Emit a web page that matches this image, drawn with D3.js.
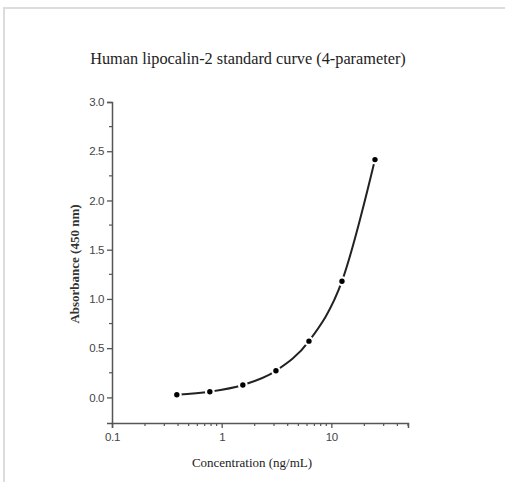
<!DOCTYPE html>
<html>
<head>
<meta charset="utf-8">
<script src="https://cdn.jsdelivr.net/npm/d3@7"></script>
<style>
  body { margin: 0; background: #fff; }
  .tick text { font-family: "Liberation Sans", Arial, sans-serif; fill: #444; letter-spacing: -0.4px; }
</style>
</head>
<body>
<div id="chart"></div>
<script>
// standard points
var concentrations = [0.39, 0.78, 1.56, 3.125, 6.25, 12.5, 25];
var absorbances = [0.027, 0.058, 0.126, 0.27, 0.571, 1.18, 2.415];
var xTickValues = [0.1, 1, 10];
var yTickValues = [0, 0.5, 1.0, 1.5, 2.0, 2.5, 3.0];

var W = 505, H = 482;
var svg = d3.select('#chart').append('svg')
  .attr('width', W)
  .attr('height', H);

// light frame
svg.append('path')
  .attr('d', 'M4,482 L4,8 L505,8')
  .attr('fill', 'none')
  .attr('stroke', '#dcdcdc')
  .attr('stroke-width', 2);

var x = d3.scaleLog().domain([0.1, 50]).range([112, 408]);
var y = d3.scaleLinear().domain([-0.26, 3.0]).range([423, 102]);
var axisColor = '#555';

svg.append('text')
  .attr('x', 248)
  .attr('y', 64)
  .attr('text-anchor', 'middle')
  .style('font', '16.3px "Liberation Serif", "Times New Roman", serif')
  .attr('fill', '#222')
  .text('Human lipocalin-2 standard curve (4-parameter)');

// y axis
var yAxis = svg.append('g')
  .attr('transform', 'translate(112,0)')
  .call(d3.axisLeft(y).tickValues(yTickValues).tickFormat(d3.format('.1f')).tickSize(5).tickPadding(3));
yAxis.select('.domain').attr('stroke', axisColor).attr('stroke-width', 1.5);
yAxis.selectAll('.tick line').attr('stroke', axisColor).attr('stroke-width', 1.3);
yAxis.selectAll('.tick text').style('font-size', '11.5px');

var yMinor = d3.range(0.25, 3.0, 0.5);
svg.append('g').selectAll('line')
  .data(yMinor)
  .enter().append('line')
  .attr('x1', 112).attr('x2', 109)
  .attr('y1', function (d) { return y(d); })
  .attr('y2', function (d) { return y(d); })
  .attr('stroke', axisColor).attr('stroke-width', 1.2);

// x axis
var xAxis = svg.append('g')
  .attr('transform', 'translate(0,423)')
  .call(d3.axisBottom(x).tickValues(xTickValues).tickFormat(d3.format('')).tickSize(5).tickPadding(5));
xAxis.select('.domain').attr('stroke', axisColor).attr('stroke-width', 1.5);
xAxis.selectAll('.tick line').attr('stroke', axisColor).attr('stroke-width', 1.3);
xAxis.selectAll('.tick text').style('font-size', '11.5px');

var xMinor = [];
[0.1, 1, 10].forEach(function (base) {
  for (var k = 2; k <= 9; k++) {
    if (base * k <= 50) xMinor.push(base * k);
  }
});
svg.append('g').selectAll('line')
  .data(xMinor)
  .enter().append('line')
  .attr('x1', function (d) { return x(d); })
  .attr('x2', function (d) { return x(d); })
  .attr('y1', 423).attr('y2', 426)
  .attr('stroke', axisColor).attr('stroke-width', 1.2);

svg.append('text')
  .attr('x', 252)
  .attr('y', 467)
  .attr('text-anchor', 'middle')
  .style('font', '13px "Liberation Serif", "Times New Roman", serif')
  .attr('fill', '#222')
  .text('Concentration (ng/mL)');

svg.append('text')
  .attr('transform', 'translate(79,264) rotate(-90)')
  .attr('text-anchor', 'middle')
  .style('font', 'bold 13px "Liberation Serif", "Times New Roman", serif')
  .attr('fill', '#333')
  .text('Absorbance (450 nm)');

// curve + points
var pts = concentrations.map(function (c, i) { return { c: c, a: absorbances[i] }; });

var line = d3.line()
  .curve(d3.curveMonotoneX)
  .x(function (d) { return x(d.c); })
  .y(function (d) { return y(d.a); });

svg.append('path')
  .datum(pts)
  .attr('d', line)
  .attr('fill', 'none')
  .attr('stroke', '#222')
  .attr('stroke-width', 2);

svg.append('g').selectAll('circle')
  .data(pts)
  .enter().append('circle')
  .attr('cx', function (d) { return x(d.c); })
  .attr('cy', function (d) { return y(d.a); })
  .attr('r', 3.8)
  .attr('fill', '#000')
  .attr('stroke', '#fff')
  .attr('stroke-width', 2.2);
</script>
</body>
</html>
